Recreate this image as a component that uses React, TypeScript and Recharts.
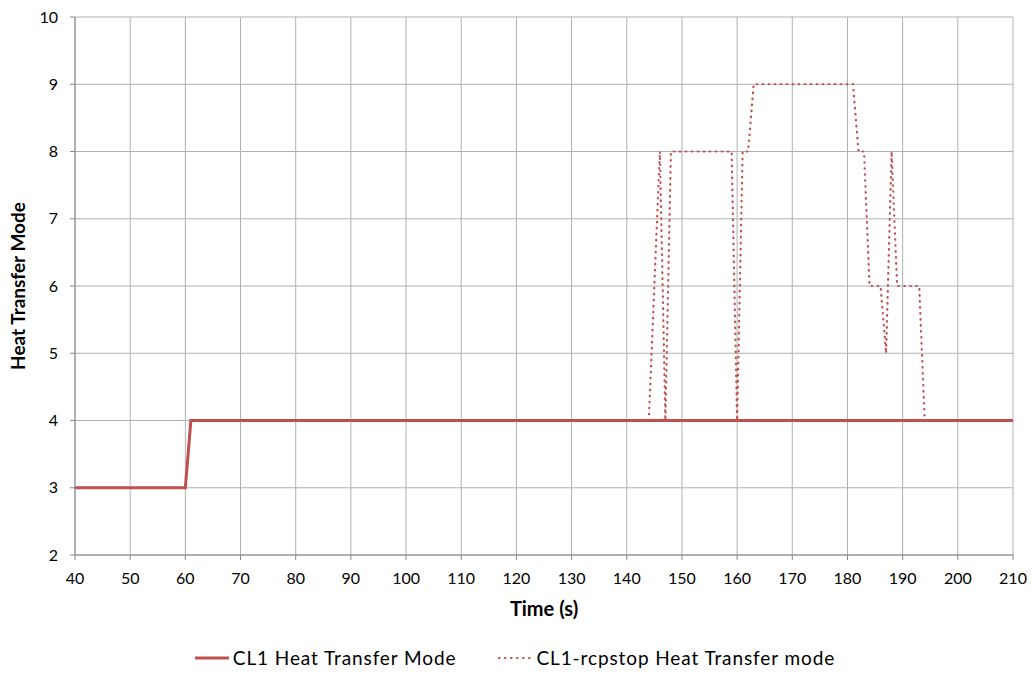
import { LineChart, Line, XAxis, YAxis, CartesianGrid, Legend } from 'recharts'

// CL1 Heat Transfer Mode (solid)
const cl1Time = [40, 60, 61, 210]
const cl1Mode = [3, 3, 4, 4]

// CL1-rcpstop Heat Transfer mode (dotted)
const rcpTime = [40, 60, 61, 144, 146, 147, 148, 159, 160, 161, 162, 163, 181, 182, 183, 184, 186, 187, 188, 189, 193, 194, 210]
const rcpMode = [3, 3, 4, 4, 8, 4, 8, 8, 4, 8, 8, 9, 9, 8, 8, 6, 6, 5, 8, 6, 6, 4, 4]

const xTicks = [40, 50, 60, 70, 80, 90, 100, 110, 120, 130, 140, 150, 160, 170, 180, 190, 200, 210]
const yTicks = [2, 3, 4, 5, 6, 7, 8, 9, 10]

const RED = '#c0504d'
const FONT = 'Lato, "Open Sans", sans-serif'

const cl1Data = cl1Time.map((t, i) => ({ t, mode: cl1Mode[i] }))
const rcpData = rcpTime.map((t, i) => ({ t, mode: rcpMode[i] }))

function LegendContent() {
  return (
    <div
      style={{
        display: 'flex',
        justifyContent: 'center',
        alignItems: 'center',
        fontFamily: FONT,
        fontSize: 19,
        letterSpacing: 0.9,
        color: '#000',
        paddingTop: 16,
        paddingRight: 13,
      }}
    >
      <svg width={34} height={10} style={{ marginRight: 4 }}>
        <line x1={0} y1={5} x2={34} y2={5} stroke={RED} strokeWidth={3} />
      </svg>
      <span style={{ marginRight: 42 }}>CL1 Heat Transfer Mode</span>
      <svg width={34} height={10} style={{ marginRight: 4 }}>
        <line x1={1} y1={5} x2={33} y2={5} stroke={RED} strokeWidth={2.2} strokeDasharray="0.5 5.5" strokeLinecap="round" />
      </svg>
      <span>CL1-rcpstop Heat Transfer mode</span>
    </div>
  )
}

export default function App() {
  return (
    <div style={{ position: 'absolute', left: 0, top: 0, background: '#fff' }}>
      <LineChart width={1032} height={675} margin={{ top: 17, right: 19, bottom: 0, left: 30 }}>
        <CartesianGrid stroke="#b0b0b0" strokeWidth={1} />
        <XAxis
          dataKey="t"
          type="number"
          domain={[40, 210]}
          ticks={xTicks}
          allowDuplicatedCategory={false}
          height={75}
          tickSize={5}
          tickMargin={13}
          stroke="#888"
          tick={{ fill: '#000', fontSize: 16, fontFamily: FONT }}
          label={{ value: 'Time (s)', position: 'insideBottom', offset: 14, style: { fontWeight: 'bold', fontSize: 20, fontFamily: FONT, fill: '#000' } }}
        />
        <YAxis
          type="number"
          domain={[2, 10]}
          ticks={yTicks}
          width={45}
          tickSize={5}
          tickMargin={12}
          stroke="#888"
          tick={{ fill: '#000', fontSize: 16, fontFamily: FONT }}
          label={{ value: 'Heat Transfer Mode', angle: -90, position: 'left', offset: 12, style: { fontWeight: 'bold', fontSize: 19, fontFamily: FONT, fill: '#000', textAnchor: 'middle' } }}
        />
        <Legend verticalAlign="bottom" height={45} content={<LegendContent />} />
        <Line
          data={cl1Data}
          dataKey="mode"
          type="linear"
          stroke={RED}
          strokeWidth={3}
          dot={false}
          isAnimationActive={false}
        />
        <Line
          data={rcpData}
          dataKey="mode"
          type="linear"
          stroke={RED}
          strokeWidth={2.2}
          strokeDasharray="0.5 5.5"
          strokeLinecap="round"
          dot={false}
          isAnimationActive={false}
        />
      </LineChart>
    </div>
  )
}
